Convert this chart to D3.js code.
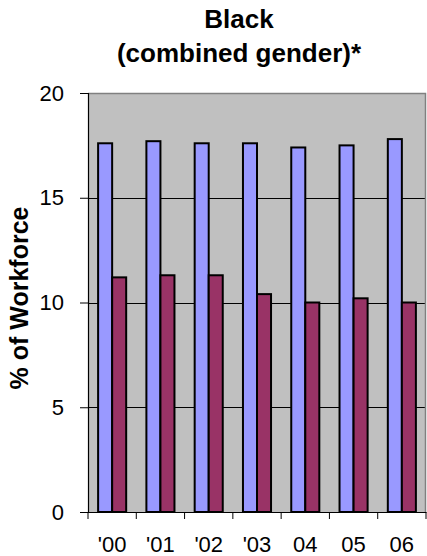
<!DOCTYPE html>
<html>
<head>
<meta charset="utf-8">
<script src="https://cdn.jsdelivr.net/npm/d3@7"></script>
<style>
  html, body { margin: 0; padding: 0; background: #fff; }
  svg { display: block; }
  text { font-family: "Liberation Sans", Arial, sans-serif; fill: #000; }
</style>
</head>
<body>
<svg id="chart" width="427" height="556"></svg>
<script>
const categories = ["'00", "'01", "'02", "'03", "04", "05", "06"];
const seriesNames = ["A", "B"];
const seriesA = [17.6, 17.7, 17.6, 17.6, 17.4, 17.5, 17.8];
const seriesB = [11.2, 11.3, 11.3, 10.4, 10.0, 10.2, 10.0];
const yTicks = [0, 5, 10, 15, 20];
const titleLines = ["Black", "(combined gender)*"];
const yLabel = "% of Workforce";
const colors = ["#9999FF", "#993366"];

const svg = d3.select("#chart");
const pL = 88, pR = 426, pT = 93, pB = 512;

const x = d3.scaleBand().domain(categories).range([pL, pR]).paddingInner(0).paddingOuter(0);
const x1 = d3.scaleBand().domain(seriesNames).range([0, x.bandwidth()]).paddingInner(0).paddingOuter(0.72);
const y = d3.scaleLinear().domain([0, 20]).range([pB, pT]);

// plot background
svg.append("rect").attr("x", pL).attr("y", pT)
  .attr("width", pR - pL).attr("height", pB - pT)
  .attr("fill", "#C0C0C0");

// gridlines
svg.append("g").selectAll("line").data(yTicks.filter(t => t > 0 && t < 20)).join("line")
  .attr("x1", pL).attr("x2", pR)
  .attr("y1", d => Math.round(y(d)) + 0.5).attr("y2", d => Math.round(y(d)) + 0.5)
  .attr("stroke", "#000").attr("stroke-width", 1);

// plot border (top & right)
svg.append("path")
  .attr("d", `M${pL},${pT + 0.5}H${pR - 0.5}V${pB}`)
  .attr("fill", "none").attr("stroke", "#808080").attr("stroke-width", 1.5);

// bars
const data = categories.map((c, i) => ({ c, vals: [seriesA[i], seriesB[i]] }));
const groups = svg.append("g").selectAll("g").data(data).join("g")
  .attr("transform", d => `translate(${x(d.c)},0)`);
groups.selectAll("rect").data(d => d.vals.map((v, j) => ({ v, s: seriesNames[j], j }))).join("rect")
  .attr("x", d => x1(d.s))
  .attr("y", d => y(d.v))
  .attr("width", x1.bandwidth())
  .attr("height", d => y(0) - y(d.v))
  .attr("fill", d => colors[d.j])
  .attr("stroke", "#000").attr("stroke-width", 2);

// y axis
const yAxis = d3.axisLeft(y).tickValues(yTicks).tickSize(8).tickPadding(16).tickFormat(d3.format("d"));
const gy = svg.append("g").attr("transform", `translate(${pL},0)`).call(yAxis);
gy.select(".domain").attr("stroke", "#000").attr("stroke-width", 1.2);
gy.selectAll(".tick line").attr("stroke", "#000");
gy.selectAll("text").style("font-size", "22px").attr("fill", "#000");

// x axis
const xAxis = d3.axisBottom(x).tickSize(0).tickPadding(24);
const gx = svg.append("g").attr("transform", `translate(0,${pB})`).call(xAxis);
gx.select(".domain").attr("stroke", "#000").attr("stroke-width", 1.2);
gx.selectAll("text").style("font-size", "22px").attr("fill", "#000");
// x tick marks at band boundaries
const bounds = categories.map(c => x(c)).concat([pR]);
gx.append("g").selectAll("line").data(bounds).join("line")
  .attr("x1", d => d).attr("x2", d => d).attr("y1", 0).attr("y2", 7)
  .attr("stroke", "#000");

// title
const title = svg.append("text").attr("text-anchor", "middle")
  .style("font-size", "26px").style("font-weight", "bold");
title.selectAll("tspan").data(titleLines).join("tspan")
  .attr("x", 239).attr("y", (d, i) => i === 0 ? 28 : 61.5)
  .text(d => d);

// y label
svg.append("text")
  .attr("transform", `translate(28,298) rotate(-90)`)
  .attr("text-anchor", "middle")
  .style("font-size", "25px").style("font-weight", "bold")
  .text(yLabel);
</script>
</body>
</html>
